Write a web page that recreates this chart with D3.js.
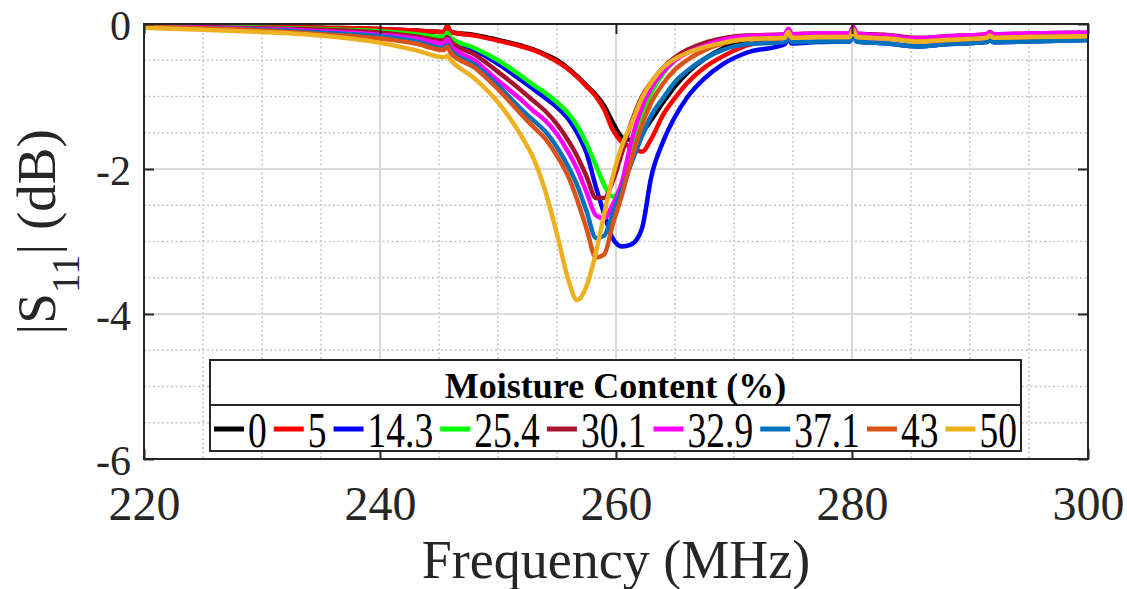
<!DOCTYPE html>
<html>
<head>
<meta charset="utf-8">
<script src="https://cdn.jsdelivr.net/npm/d3@7"></script>
</head>
<body style="margin:0;background:#fff">
<svg id="fig" width="1127" height="589"></svg>
<script>
// frequency samples (MHz)
var freq = [220, 225, 230, 235, 240, 243, 245.4, 245.7, 246, 248,
            250, 252, 253, 254, 255, 256, 256.7, 257.5, 258.3, 259,
            259.7, 260.5, 261.3, 262.2, 263, 264, 265, 266, 267.5, 269,
            271, 274.3, 274.6, 274.9, 277, 279.8, 280.1, 280.4, 283, 285.5,
            288, 291.4, 291.7, 292, 295, 300];

// |S11| (dB) for each moisture content
var mc0 = [-0.02, -0.02, -0.03, -0.05, -0.07, -0.09, -0.11, -0.05, -0.11, -0.15,
           -0.22, -0.30, -0.35, -0.42, -0.50, -0.62, -0.72, -0.85, -0.98, -1.13,
           -1.35, -1.56, -1.60, -1.50, -1.32, -1.08, -0.86, -0.68, -0.48, -0.34,
           -0.22, -0.16, -0.08, -0.16, -0.15, -0.15, -0.05, -0.15, -0.17, -0.21,
           -0.19, -0.16, -0.12, -0.16, -0.15, -0.14];
var mc5 = [-0.02, -0.02, -0.03, -0.05, -0.07, -0.09, -0.11, -0.02, -0.11, -0.16,
           -0.23, -0.31, -0.36, -0.43, -0.52, -0.63, -0.73, -0.86, -1.00, -1.18,
           -1.45, -1.63, -1.70, -1.76, -1.58, -1.25, -1.02, -0.82, -0.60, -0.45,
           -0.30, -0.18, -0.09, -0.17, -0.15, -0.14, -0.05, -0.14, -0.16, -0.20,
           -0.18, -0.15, -0.11, -0.15, -0.14, -0.13];
var mc14 = [-0.04, -0.05, -0.07, -0.10, -0.13, -0.17, -0.20, -0.16, -0.21, -0.36,
            -0.55, -0.78, -0.90, -1.02, -1.15, -1.32, -1.50, -1.78, -2.25, -2.62,
            -2.95, -3.07, -3.04, -2.82, -2.10, -1.62, -1.28, -1.02, -0.75, -0.56,
            -0.40, -0.28, -0.20, -0.27, -0.25, -0.24, -0.15, -0.24, -0.27, -0.31,
            -0.28, -0.25, -0.22, -0.25, -0.24, -0.22];
var mc25 = [-0.03, -0.04, -0.05, -0.07, -0.10, -0.14, -0.18, -0.12, -0.19, -0.33,
            -0.50, -0.72, -0.84, -0.95, -1.08, -1.24, -1.40, -1.65, -1.95, -2.22,
            -2.38, -2.25, -1.80, -1.30, -0.95, -0.68, -0.50, -0.38, -0.28, -0.21,
            -0.17, -0.15, -0.08, -0.15, -0.14, -0.14, -0.05, -0.14, -0.16, -0.20,
            -0.18, -0.15, -0.12, -0.15, -0.14, -0.13];
var mc30 = [-0.03, -0.04, -0.06, -0.08, -0.12, -0.17, -0.23, -0.18, -0.24, -0.42,
            -0.66, -0.92, -1.06, -1.20, -1.38, -1.62, -1.82, -2.10, -2.40, -2.40,
            -2.18, -1.78, -1.36, -1.00, -0.80, -0.60, -0.46, -0.36, -0.26, -0.20,
            -0.16, -0.14, -0.07, -0.14, -0.13, -0.13, -0.04, -0.13, -0.15, -0.19,
            -0.17, -0.14, -0.11, -0.14, -0.13, -0.12];
var mc32 = [-0.03, -0.05, -0.07, -0.10, -0.15, -0.20, -0.27, -0.21, -0.30, -0.50,
            -0.78, -1.05, -1.20, -1.33, -1.52, -1.78, -2.00, -2.32, -2.64, -2.68,
            -2.50, -2.18, -1.62, -1.15, -0.88, -0.66, -0.50, -0.40, -0.30, -0.22,
            -0.17, -0.14, -0.07, -0.14, -0.13, -0.13, -0.04, -0.13, -0.16, -0.20,
            -0.17, -0.14, -0.11, -0.14, -0.13, -0.12];
var mc37 = [-0.04, -0.06, -0.08, -0.12, -0.17, -0.24, -0.33, -0.29, -0.36, -0.56,
            -0.85, -1.18, -1.33, -1.48, -1.70, -1.98, -2.22, -2.58, -2.95, -2.92,
            -2.62, -2.28, -1.92, -1.55, -1.26, -1.02, -0.80, -0.65, -0.48, -0.36,
            -0.28, -0.25, -0.18, -0.25, -0.24, -0.24, -0.15, -0.24, -0.27, -0.31,
            -0.28, -0.25, -0.22, -0.25, -0.24, -0.22];
var mc43 = [-0.04, -0.06, -0.09, -0.14, -0.20, -0.27, -0.36, -0.31, -0.40, -0.60,
            -0.90, -1.25, -1.42, -1.58, -1.82, -2.12, -2.42, -2.82, -3.22, -3.18,
            -2.78, -2.36, -1.88, -1.40, -1.08, -0.82, -0.63, -0.50, -0.36, -0.27,
            -0.21, -0.19, -0.12, -0.19, -0.18, -0.18, -0.09, -0.18, -0.20, -0.24,
            -0.22, -0.19, -0.16, -0.19, -0.18, -0.17];
var mc50 = [-0.05, -0.08, -0.11, -0.16, -0.26, -0.36, -0.46, -0.44, -0.50, -0.75,
            -1.08, -1.55, -1.85, -2.30, -2.90, -3.55, -3.81, -3.62, -3.15, -2.62,
            -2.12, -1.68, -1.38, -1.02, -0.80, -0.60, -0.48, -0.40, -0.32, -0.26,
            -0.21, -0.19, -0.11, -0.19, -0.18, -0.18, -0.08, -0.18, -0.20, -0.24,
            -0.22, -0.19, -0.16, -0.19, -0.18, -0.17];

var moisture = ["0", "5", "14.3", "25.4", "30.1", "32.9", "37.1", "43", "50"];
var seriesVals = [mc0, mc5, mc14, mc25, mc30, mc32, mc37, mc43, mc50];
var colors = ["#000000", "#ff0000", "#0000ff", "#00ff00", "#a2142f",
              "#ff00ff", "#0072bd", "#d95319", "#edb120"];
var xTicks = [220, 240, 260, 280, 300];
var yTicks = [0, -2, -4, -6];

var FONT = "'Liberation Serif', 'DejaVu Serif', serif";
// force the serif face on a text selection
function serif(sel) { sel.style("font-family", FONT, "important"); }

var svg = d3.select("#fig"),
    margin = { top: 24, right: 39, bottom: 130, left: 144 },
    width = +svg.attr("width") - margin.left - margin.right,
    height = +svg.attr("height") - margin.top - margin.bottom;

var x = d3.scaleLinear().domain([220, 300]).range([0, width]),
    y = d3.scaleLinear().domain([-6, 0]).range([height, 0]);

var g = svg.append("g").attr("transform", "translate(" + margin.left + "," + margin.top + ")");

// minor grid (dotted) then major grid (solid)
var xMinor = d3.range(225, 300, 5).filter(function(d) { return d % 20 !== 0; });
var yMinor = d3.range(-5.5, 0, 0.5).filter(function(d) { return d % 2 !== 0; });
g.selectAll(".xminor").data(xMinor).enter().append("line")
    .attr("x1", function(d) { return x(d); }).attr("x2", function(d) { return x(d); })
    .attr("y1", 0).attr("y2", height)
    .attr("stroke", "#c4c4c4").attr("stroke-width", 1.5).attr("stroke-dasharray", "2,2.5");
g.selectAll(".yminor").data(yMinor).enter().append("line")
    .attr("x1", 0).attr("x2", width)
    .attr("y1", function(d) { return y(d); }).attr("y2", function(d) { return y(d); })
    .attr("stroke", "#c4c4c4").attr("stroke-width", 1.5).attr("stroke-dasharray", "2,2.5");
g.selectAll(".xmajor").data(xTicks).enter().append("line")
    .attr("x1", function(d) { return x(d); }).attr("x2", function(d) { return x(d); })
    .attr("y1", 0).attr("y2", height)
    .attr("stroke", "#dadada").attr("stroke-width", 2);
g.selectAll(".ymajor").data(yTicks).enter().append("line")
    .attr("x1", 0).attr("x2", width)
    .attr("y1", function(d) { return y(d); }).attr("y2", function(d) { return y(d); })
    .attr("stroke", "#dadada").attr("stroke-width", 2);

// curves
g.append("clipPath").attr("id", "clip")
  .append("rect").attr("width", width).attr("height", height);

var line = d3.line()
    .curve(d3.curveMonotoneX)
    .x(function(d, i) { return x(freq[i]); })
    .y(function(d) { return y(d); });

g.append("g").attr("clip-path", "url(#clip)")
  .selectAll(".curve").data(seriesVals).enter().append("path")
    .attr("class", "curve")
    .attr("d", function(d) { return line(d); })
    .attr("fill", "none")
    .attr("stroke", function(d, i) { return colors[i]; })
    .attr("stroke-width", 4.5)
    .attr("stroke-linejoin", "round")
    .attr("stroke-linecap", "round");

// axes with inward ticks on all four sides
function plainNum(d) { return String(d); }
function styleAxis(sel, fs) {
    sel.attr("font-family", null).attr("font-size", null);
    sel.select(".domain").remove();
    sel.selectAll(".tick line").attr("stroke", "#262626").attr("stroke-width", 2);
    sel.selectAll(".tick text").attr("fill", "#262626")
       .style("font-size", fs + "px").call(serif);
}
g.append("g").attr("transform", "translate(0," + height + ")")
  .call(d3.axisBottom(x).tickValues(xTicks).tickFormat(plainNum).tickSize(-10).tickPadding(27))
  .call(styleAxis, 48);
g.append("g")
  .call(d3.axisTop(x).tickValues(xTicks).tickSize(-10).tickFormat(""))
  .call(styleAxis, 48);
g.append("g")
  .call(d3.axisLeft(y).tickValues(yTicks).tickFormat(plainNum).tickSize(-10).tickPadding(13))
  .call(styleAxis, 42)
  .selectAll(".tick text").attr("dy", "0.38em");
g.append("g").attr("transform", "translate(" + width + ",0)")
  .call(d3.axisRight(y).tickValues(yTicks).tickSize(-10).tickFormat(""))
  .call(styleAxis, 42);

g.append("rect").attr("width", width).attr("height", height)
  .attr("fill", "none").attr("stroke", "#262626").attr("stroke-width", 2);

// axis labels
svg.append("text")
  .attr("x", margin.left + width / 2).attr("y", 578)
  .attr("text-anchor", "middle").attr("fill", "#262626")
  .style("font-size", "54px").call(serif)
  .text("Frequency (MHz)");

var yl = svg.append("text")
  .attr("transform", "translate(55," + (margin.top + 208) + ") rotate(-90)")
  .attr("text-anchor", "middle").attr("fill", "#262626")
  .style("font-size", "55px").call(serif);
yl.append("tspan").text("|S");
yl.append("tspan").attr("dy", 24).style("font-size", "40px").text("11");
yl.append("tspan").attr("dy", -24).text("| (dB)");

// legend
var lg = svg.append("g");
var lx = 210, ly = 360, lw = 811, lh = 91, ldiv = 405;
lg.append("rect").attr("x", lx).attr("y", ly).attr("width", lw).attr("height", lh)
  .attr("fill", "#fff").attr("stroke", "#262626").attr("stroke-width", 2);
lg.append("line").attr("x1", lx).attr("x2", lx + lw).attr("y1", ldiv).attr("y2", ldiv)
  .attr("stroke", "#262626").attr("stroke-width", 2);
lg.append("text")
  .attr("x", lx + lw / 2).attr("y", 398)
  .attr("text-anchor", "middle").attr("fill", "#000")
  .style("font-size", "36px").style("font-weight", "bold").call(serif)
  .text("Moisture Content (%)");

var sampleW = 30, gapIn = 4, gapOut = 7, pad = 4;
var labels = lg.selectAll(".lab").data(moisture).enter().append("text")
  .attr("class", "lab").attr("fill", "#000")
  .style("font-size", "50px").call(serif)
  .text(function(d) { return d; });
var widths = [];
labels.each(function() { widths.push(this.getComputedTextLength()); });
var sumW = d3.sum(widths);
var sx = (lw - 2 * pad - moisture.length * (sampleW + gapIn) - (moisture.length - 1) * gapOut) / sumW;
var cx = lx + pad, rowY = 429;
labels.each(function(d, i) {
    lg.append("line")
      .attr("x1", cx).attr("x2", cx + sampleW).attr("y1", rowY).attr("y2", rowY)
      .attr("stroke", colors[i]).attr("stroke-width", 5);
    var tx = cx + sampleW + gapIn;
    d3.select(this).attr("transform", "translate(" + tx + ",447) scale(" + sx + ",1)");
    cx = tx + widths[i] * sx + gapOut;
});
</script>
</body>
</html>
